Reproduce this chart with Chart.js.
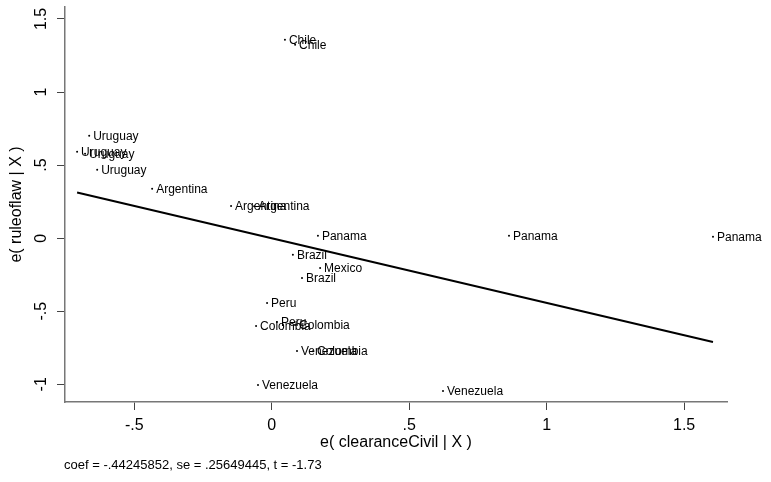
<!DOCTYPE html>
<html>
<head>
<meta charset="utf-8">
<script src="https://cdn.jsdelivr.net/npm/chart.js@4/dist/chart.umd.min.js"></script>
<style>
html,body{margin:0;padding:0;background:#fff;}
#wrap{position:relative;width:771px;height:482px;}
</style>
</head>
<body>
<div id="wrap"><canvas id="c" width="771" height="482"></canvas></div>
<script>
// ---- data ----
const countries = ["Chile","Chile","Uruguay","Uruguay","Uruguay","Uruguay","Argentina","Argentina","Argentina",
  "Panama","Panama","Panama","Brazil","Brazil","Mexico","Peru","Peru","Colombia","Colombia","Venezuela","Colombia","Venezuela","Venezuela"];
const xResid = [0.048,0.085,-0.664,-0.708,-0.679,-0.635,-0.435,-0.148,-0.064,
  0.168,0.863,1.605,0.077,0.110,0.176,-0.017,0.019,-0.057,0.085,0.092,0.150,-0.050,0.623];
const yResid = [1.358,1.324,0.701,0.591,0.577,0.468,0.338,0.221,0.219,
  0.016,0.016,0.009,-0.114,-0.272,-0.204,-0.443,-0.573,-0.601,-0.594,-0.772,-0.774,-1.005,-1.046];
const coef = -0.44245852;
const se = 0.25649445;
const tStat = -1.73;
const xTicks = [-0.5,0,0.5,1,1.5];
const yTicks = [-1,-0.5,0,0.5,1,1.5];
const xTitle = "e( clearanceCivil | X )";
const yTitle = "e( ruleoflaw | X )";
const note = "coef = -.44245852, se = .25649445, t = -1.73";

function stataFmt(v){
  let s = String(v);
  s = s.replace(/^0\./,'.').replace(/^-0\./,'-.');
  return s;
}

const pts = xResid.map((x,i)=>({x:x,y:yResid[i],label:countries[i]}));
const xmin = Math.min(...xResid), xmax = Math.max(...xResid);
const fitLine = [{x:xmin,y:coef*xmin},{x:xmax,y:coef*xmax}];

const FONT = "'Liberation Sans', Arial, Helvetica, sans-serif";

const labelPlugin = {
  id:'labels',
  afterDatasetsDraw(chart){
    const ctx = chart.ctx;
    const xs = chart.scales.x, ys = chart.scales.y;
    ctx.save();
    ctx.fillStyle = '#000';
    ctx.font = "12px " + FONT;
    ctx.textBaseline = 'middle';
    ctx.textAlign = 'left';
    pts.forEach(p=>{
      ctx.fillText(p.label, xs.getPixelForValue(p.x)+4, ys.getPixelForValue(p.y)+0.5);
    });
    // y tick labels, rotated
    ctx.font = "16px " + FONT;
    ctx.textAlign = 'center';
    ctx.textBaseline = 'middle';
    yTicks.forEach(v=>{
      const py = ys.getPixelForValue(v);
      ctx.save();
      ctx.translate(42, py);
      ctx.rotate(-Math.PI/2);
      ctx.fillText(stataFmt(v),0,0);
      ctx.restore();
    });
    // y title
    ctx.save();
    ctx.translate(17, (chart.chartArea.top+chart.chartArea.bottom)/2);
    ctx.rotate(-Math.PI/2);
    ctx.fillText(yTitle,0,0);
    ctx.restore();
    // x title
    ctx.fillText(xTitle,(chart.chartArea.left+chart.chartArea.right)/2, 443);
    // note
    ctx.font = "13px " + FONT;
    ctx.textAlign = 'left';
    ctx.fillText(note, 64, 465);
    ctx.restore();
  }
};

new Chart(document.getElementById('c'),{
  type:'scatter',
  data:{datasets:[
    {data:pts, pointRadius:1, pointHoverRadius:1, pointBackgroundColor:'#000', pointBorderWidth:0, showLine:false, order:2},
    {type:'line', data:fitLine, borderColor:'#000', borderWidth:2, pointRadius:0, fill:false, tension:0, order:1}
  ]},
  options:{
    responsive:false, animation:false,
    layout:{padding:{left:0,top:7,right:44,bottom:0}},
    plugins:{legend:{display:false},tooltip:{enabled:false}},
    scales:{
      x:{type:'linear',min:-0.752,max:1.656,
        afterBuildTicks(s){s.ticks = xTicks.map(v=>({value:v}));},
        afterFit(s){s.height = 80;},
        grid:{display:true,drawOnChartArea:false,drawTicks:true,tickLength:8,color:'#444',lineWidth:1},
        border:{display:true,color:'#777',width:1.5},
        ticks:{color:'#000',font:{family:FONT,size:16},padding:6,maxRotation:0,callback:v=>stataFmt(v)}
      },
      y:{type:'linear',min:-1.121,max:1.582,
        afterBuildTicks(s){s.ticks = yTicks.map(v=>({value:v}));},
        afterFit(s){s.width = 65;},
        grid:{display:true,drawOnChartArea:false,drawTicks:true,tickLength:8,color:'#444',lineWidth:1},
        border:{display:true,color:'#777',width:1.5},
        ticks:{display:false}
      }
    }
  },
  plugins:[labelPlugin]
});
</script>
</body>
</html>
